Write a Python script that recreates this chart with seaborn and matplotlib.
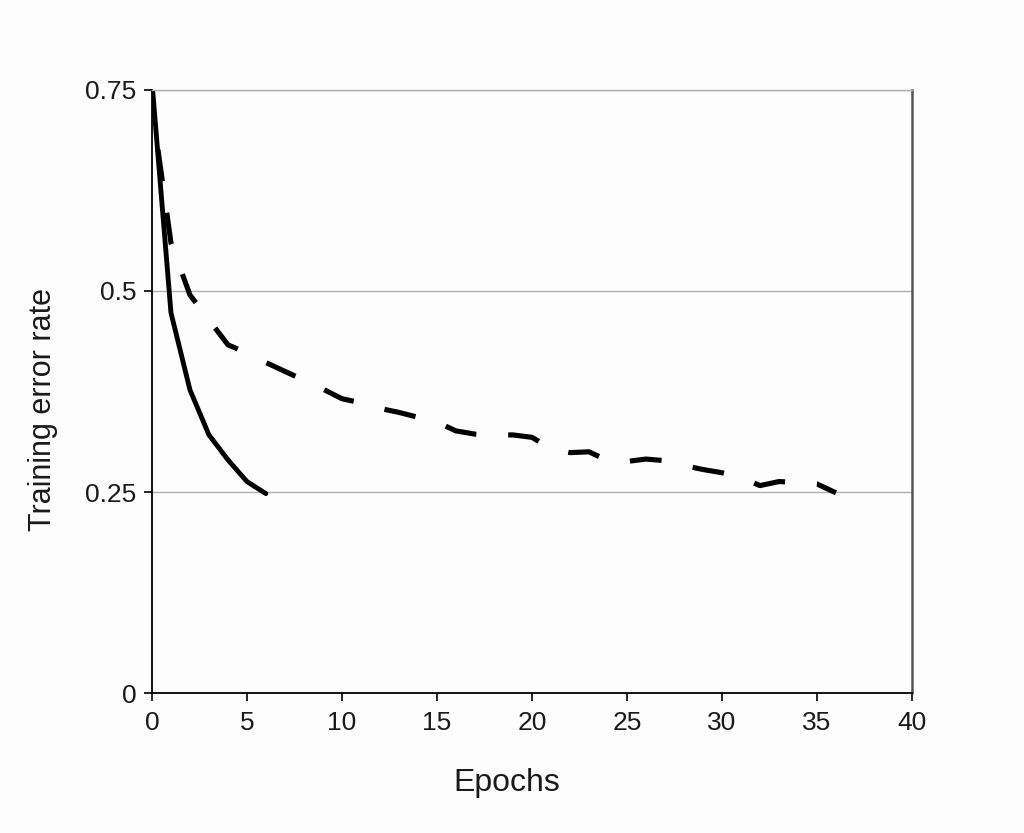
import matplotlib
matplotlib.use("Agg")
import matplotlib.pyplot as plt
import pandas as pd
import seaborn as sns

# ReLU network (solid) and tanh network (dashed)
relu_epochs = [0, 1, 2, 3, 4, 5, 6]
relu_error = [0.76, 0.473, 0.377, 0.321, 0.290, 0.263, 0.248]

tanh_epochs = list(range(37))
tanh_error = [0.729, 0.560, 0.495, 0.464, 0.433, 0.423, 0.411, 0.400, 0.389,
              0.378, 0.366, 0.361, 0.354, 0.349, 0.343, 0.337, 0.326, 0.322,
              0.321, 0.321, 0.318, 0.304, 0.299, 0.300, 0.289, 0.288, 0.291,
              0.289, 0.283, 0.278, 0.274, 0.268, 0.258, 0.263, 0.262, 0.260,
              0.249]

x_ticks = [0, 5, 10, 15, 20, 25, 30, 35, 40]
y_ticks = [0, 0.25, 0.5, 0.75]
y_tick_labels = ["0", "0.25", "0.5", "0.75"]

sns.set_theme(style="white")
plt.rcParams["font.family"] = ["Liberation Sans", "DejaVu Sans"]

relu_df = pd.DataFrame({"epoch": relu_epochs, "error": relu_error})
tanh_df = pd.DataFrame({"epoch": tanh_epochs, "error": tanh_error})

fig = plt.figure(figsize=(10.24, 8.33), dpi=100)
fig.patch.set_facecolor("#fdfdfd")
ax = fig.add_axes([0.1484, 0.168, 0.7422, 0.724])
ax.set_facecolor("#fdfdfd")

for y in y_ticks[1:]:
    ax.axhline(y, color="#b0b0b0", lw=1, zorder=0)

sns.lineplot(data=tanh_df, x="epoch", y="error", ax=ax, color="black",
             lw=3.7, dashes=False)
ax.lines[-1].set_linestyle((4.0, (6.2, 6.2)))
ax.lines[-1].set_dash_capstyle("butt")
sns.lineplot(data=relu_df, x="epoch", y="error", ax=ax, color="black",
             lw=3.5)

ax.set_xlim(0, 40)
ax.set_ylim(0, 0.75)
ax.set_xticks(x_ticks)
ax.set_yticks(y_ticks)
ax.set_yticklabels(y_tick_labels)
ax.tick_params(axis="both", direction="out", length=6, width=1.2,
               color="black", labelsize=19, labelcolor="#1a1a1a",
               bottom=True, left=True)
ax.tick_params(axis="x", pad=7)
ax.tick_params(axis="y", pad=5)

for side in ["left", "bottom"]:
    ax.spines[side].set_color("black")
    ax.spines[side].set_linewidth(1.3)
ax.spines["top"].set_color("#b0b0b0")
ax.spines["top"].set_linewidth(1)
ax.spines["right"].set_color("#555555")
ax.spines["right"].set_linewidth(1.8)

ax.set_xlabel("Epochs", fontsize=23, color="#1a1a1a")
ax.set_ylabel("Training error rate", fontsize=22, color="#1a1a1a")
ax.xaxis.set_label_coords(0.467, -0.125)
ax.yaxis.set_label_coords(-0.124, 0.47)

plt.savefig("out.png", dpi=100, facecolor=fig.get_facecolor())
plt.close()
print("Saved: out.png")
